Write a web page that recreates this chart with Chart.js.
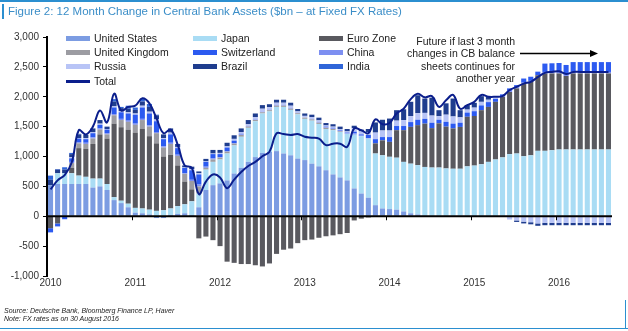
<!DOCTYPE html>
<html>
<head>
<meta charset="utf-8">
<script src="https://cdn.jsdelivr.net/npm/chart.js@4.4.0/dist/chart.umd.min.js"></script>
<style>
  body { margin: 0; background: #fff; font-family: "Liberation Sans", Arial, sans-serif; }
  #wrap { position: relative; width: 628px; height: 331px; overflow: hidden; }
  #wrap canvas { position: absolute; left: 0; top: 0; }
  .topline { position: absolute; left: 0; top: 0; width: 628px; height: 2px; background: #2b8fd0; }
  .title { position: absolute; left: 2px; top: 4px; padding-left: 4px; border-left: 2px solid #2b8fd0; font-size: 11.5px; line-height: 15px; color: #3b8ec8; white-space: nowrap; }
  .legend-item { position: absolute; font-size: 10.5px; color: #222; white-space: nowrap; line-height: 12px; }
  .legend-item span.sw { position: absolute; left: 0; width: 24px; }
  .legend-item span.tx { position: absolute; left: 28px; top: 0; }
  .note { position: absolute; right: 113px; top: 35px; text-align: right; font-size: 10.5px; line-height: 12.3px; color: #222; }
  .source { position: absolute; left: 4px; top: 307px; font-size: 7px; line-height: 8px; font-style: italic; color: #222; }
  .botline { position: absolute; left: 0; top: 328px; width: 628px; height: 1px; background: #2b8fd0; }
  .rightline { position: absolute; left: 625px; top: 300px; width: 1px; height: 29px; background: #2b8fd0; }
</style>
</head>
<body>
<div id="wrap">
  <canvas id="cb-assets-chart" width="628" height="331"></canvas>
  <div class="topline"></div>
  <div class="title">Figure 2: 12 Month Change in Central Bank Assets ($bn – at Fixed FX Rates)</div>
  <div id="legend"></div>
  <div class="note">Future if last 3 month<br>changes in CB balance<br>sheets continues for<br>another year</div>
  <div class="source">Source: Deutsche Bank, Bloomberg Finance LP, Haver<br>Note: FX rates as on 30 August 2016</div>
  <div class="botline"></div>
  <div class="rightline"></div>
</div>
<script>
const years = [2010, 2011, 2012, 2013, 2014, 2015, 2016];
const month_names = ['Jan','Feb','Mar','Apr','May','Jun','Jul','Aug','Sep','Oct','Nov','Dec'];
const months = [];
years.forEach(y => month_names.forEach(m => months.push(m + ' ' + y)));
months.length = 80; // Jan 2010 .. Aug 2016

const y_ticks = [-1000, -500, 0, 500, 1000, 1500, 2000, 2500, 3000];

// 12 month change, $bn
const united_states = [520,540,540,540,540,540,480,500,440,270,220,150, 60,50,30,-30,-30,20,40,50,20,150,440,520,
  550,600,715,810,910,990,1060,1075,1090,1050,1020,965, 940,880,835,770,700,650,600,465,380,310,185,130,
  120,110,80,50,30,10,0,0,0,0,0,0, 0,0,0,0,0,0,0,0,0,0,0,0, 0,0,0,0,0,0,0,0];
const japan = [0,180,180,180,140,120,150,130,100,50,40,60, 80,80,80,90,100,110,130,150,230,230,340,390,
  400,450,470,520,570,600,660,680,740,780,760,740, 690,720,710,690,740,760,780,900,960,990,865,890,
  875,870,830,830,825,815,815,815,800,795,795,835, 848,870,910,950,985,1040,1050,1005,1020,1095,1095,1105,
  1117,1117,1117,1117,1117,1117,1117,1117];
const euro_zone = [-200,-120,0,90,460,470,580,740,760,1230,1230,1240, 1260,1330,1230,1130,900,900,680,380,200,-370,-340,-400,
  -500,-760,-780,-800,-800,-820,-840,-790,-630,-560,-540,-450, -400,-390,-360,-335,-320,-300,-280,-70,-40,-20,170,250,
  250,460,530,616,670,725,660,740,700,675,700,830, 830,905,920,965,1015,1040,1090,1215,1230,1265,1295,1285,
  1273,1230,1273,1273,1273,1273,1273,1273];
const united_kingdom = [0,0,0,80,80,80,90,80,70,140,120,130, 130,150,160,170,150,180,160,130,140,120,30,40,
  30,30,30,30,20,20,20,20,20,20,20,20, 20,20,20,20,20,10,0,0,0,0,0,0,
  0,0,0,0,0,0,0,0,0,0,0,0, 0,0,0,0,0,0,0,0,0,0,0,0, 0,0,0,0,0,0,0,0];
const china = [0,0,0,20,20,20,20,20,20,20,20,20, 20,20,20,20,20,20,20,10,20,30,20,20,
  10,10,10,10,10,10,10,10,10,10,10,0, 0,10,10,10,10,10,10,20,10,10,0,0,
  0,0,0,0,0,0,0,0,0,0,0,0, 0,0,0,0,10,20,15,15,15,0,25,25, 25,25,25,25,25,25,25,25];
const switzerland = [-70,-50,-50,60,60,60,70,60,60,110,110,120, 150,190,200,180,120,140,110,90,160,170,80,70,
  50,60,40,10,0,0,0,0,0,0,0,0, 0,0,0,10,10,10,10,30,20,50,70,55,
  80,70,70,80,90,80,90,60,80,80,70,70, 80,80,80,50,30,40,40,70,70,60,140,145, 150,160,165,165,165,165,165,165];
const russia = [0,0,0,20,10,20,20,20,10,20,20,20, 20,30,30,30,20,30,20,10,20,20,10,10,
  20,20,30,30,30,40,50,40,40,40,40,30, 30,30,30,20,20,20,20,60,50,50,110,110,
  110,90,100,100,110,100,120,60,120,120,90,50, 60,60,40,20,-10,-55,-70,-90,-100,-120,-110,-110,
  -110,-110,-110,-110,-110,-110,-110,-110];
const brazil = [90,60,60,50,60,50,60,60,40,80,50,60, 60,70,80,70,60,70,50,30,40,30,40,60,
  50,60,60,60,70,60,60,50,50,50,50,40, 40,40,45,40,40,40,40,40,30,50,170,180,
  200,175,180,240,300,240,300,100,190,300,120,75, 80,95,50,0,0,0,-25,-30,-35,-40,-40,-40,
  -40,-40,-40,-40,-40,-40,-40,-40];
const india = [70,10,40,20,10,0,0,0,0,40,20,50, 40,50,50,10,0,0,0,0,0,0,0,0,
  0,0,0,0,0,0,0,0,0,0,0,0, 0,0,0,0,0,0,0,0,0,0,0,0,
  0,0,0,0,0,0,0,0,0,0,0,0, 0,0,0,0,0,0,0,0,0,0,0,0, 0,0,0,0,0,0,0,0];
const total = [450,600,690,900,1440,1370,1500,1770,1570,2050,1770,1830, 1850,1975,1890,1640,1390,1450,1200,850,810,370,580,700,
  650,470,614,740,840,910,1005,1080,1385,1375,1360,1375, 1330,1315,1300,1190,1215,1215,1160,1470,1440,1390,1620,1540,
  1560,1720,1800,1960,2050,1990,2010,1830,1940,2030,1800,1860, 1915,2030,2000,2000,2010,2110,2166,2220,2250,2330,2400,2415,
  2425,2380,2415,2415,2415,2415,2415,2415];

// stacking order (bottom to top)
const series = [
  { name: 'United States', data: united_states, color: '#7c9ce2' },
  { name: 'Japan', data: japan, color: '#a9dcf4' },
  { name: 'Euro Zone', data: euro_zone, color: '#59595f' },
  { name: 'United Kingdom', data: united_kingdom, color: '#9c9ca2' },
  { name: 'China', data: china, color: '#7d8ff1' },
  { name: 'Switzerland', data: switzerland, color: '#2c5af0' },
  { name: 'Russia', data: russia, color: '#b8c4f6' },
  { name: 'Brazil', data: brazil, color: '#1f3d8e' },
  { name: 'India', data: india, color: '#2f65d8' },
];
const total_color = '#0b1e8c';
const legend_order = ['United States', 'Japan', 'Euro Zone', 'United Kingdom', 'Switzerland', 'China', 'Russia', 'Brazil', 'India'];

// legend, three columns
const legend_cols = [66, 193, 319];
const legend_rows = [32, 46, 60, 75];
const legendEl = document.getElementById('legend');
const addLegend = (name, color, col, row, isLine) => {
  const item = document.createElement('div');
  item.className = 'legend-item';
  item.style.left = legend_cols[col] + 'px';
  item.style.top = legend_rows[row] + 'px';
  const sw = document.createElement('span');
  sw.className = 'sw';
  sw.style.background = color;
  sw.style.height = isLine ? '2.5px' : '5px';
  sw.style.top = isLine ? '5px' : '4px';
  const tx = document.createElement('span');
  tx.className = 'tx';
  tx.textContent = name;
  item.appendChild(sw);
  item.appendChild(tx);
  legendEl.appendChild(item);
};
legend_order.forEach((name, i) => {
  const s = series.find(d => d.name === name);
  addLegend(name, s.color, i % 3, Math.floor(i / 3), false);
});
addLegend('Total', total_color, 0, 3, true);

// zero line, year ticks and the "future" arrow
const overlay = {
  id: 'overlay',
  afterDatasetsDraw(chart) {
    const { ctx, chartArea, scales: { x, y } } = chart;
    const y0 = y.getPixelForValue(0);
    ctx.save();
    ctx.strokeStyle = '#000';
    ctx.lineWidth = 2;
    ctx.beginPath();
    ctx.moveTo(chartArea.left, y0);
    ctx.lineTo(chartArea.right, y0);
    ctx.stroke();
    ctx.lineWidth = 1;
    months.forEach((m, i) => {
      if (i > 0 && m.startsWith('Jan')) {
        const px = Math.round((x.getPixelForValue(i - 1) + x.getPixelForValue(i)) / 2) + 0.5;
        ctx.beginPath();
        ctx.moveTo(px, y0);
        ctx.lineTo(px, y0 + 4);
        ctx.stroke();
      }
    });
    // arrow
    const ay = 53.5;
    ctx.lineWidth = 1.5;
    ctx.beginPath();
    ctx.moveTo(520, ay);
    ctx.lineTo(592, ay);
    ctx.stroke();
    ctx.fillStyle = '#000';
    ctx.beginPath();
    ctx.moveTo(598, ay);
    ctx.lineTo(590, ay - 3.5);
    ctx.lineTo(590, ay + 3.5);
    ctx.closePath();
    ctx.fill();
    ctx.restore();
  }
};

const datasets = series.map(s => ({
  type: 'bar',
  label: s.name,
  data: s.data,
  backgroundColor: s.color,
  borderWidth: 0,
  stack: 'countries',
  order: 1,
  categoryPercentage: 1,
  barPercentage: 0.72,
}));
datasets.push({
  type: 'line',
  label: 'Total',
  data: total,
  borderColor: total_color,
  borderWidth: 2,
  pointRadius: 0,
  tension: 0.4,
  fill: false,
  stack: 'total',
  order: 0,
});

new Chart(document.getElementById('cb-assets-chart'), {
  data: { labels: months, datasets },
  options: {
    responsive: false,
    animation: false,
    layout: { padding: { top: 37, right: 16, bottom: 39, left: 0 } },
    plugins: { legend: { display: false }, tooltip: { enabled: false } },
    scales: {
      x: {
        stacked: true,
        offset: true,
        grid: { display: false, drawTicks: false, tickLength: 0 },
        border: { display: false },
        afterFit: s => { s.height = 16; },
        ticks: {
          autoSkip: false,
          maxRotation: 0,
          padding: 1,
          color: '#333',
          font: { family: '"Liberation Sans", Arial, sans-serif', size: 10 },
          callback: (v, i) => months[i].startsWith('Jan') ? months[i].slice(4) : '',
        },
      },
      y: {
        stacked: true,
        min: y_ticks[0],
        max: y_ticks[y_ticks.length - 1],
        afterFit: s => { s.width = 47; },
        afterBuildTicks: s => { s.ticks = y_ticks.map(v => ({ value: v })); },
        grid: { drawOnChartArea: false, color: '#000', tickLength: 4 },
        border: { color: '#000', width: 2 },
        ticks: {
          padding: 4,
          color: '#333',
          font: { family: '"Liberation Sans", Arial, sans-serif', size: 10 },
          callback: v => v.toLocaleString('en-US'),
        },
      },
    },
  },
  plugins: [overlay],
});
</script>
</body>
</html>
